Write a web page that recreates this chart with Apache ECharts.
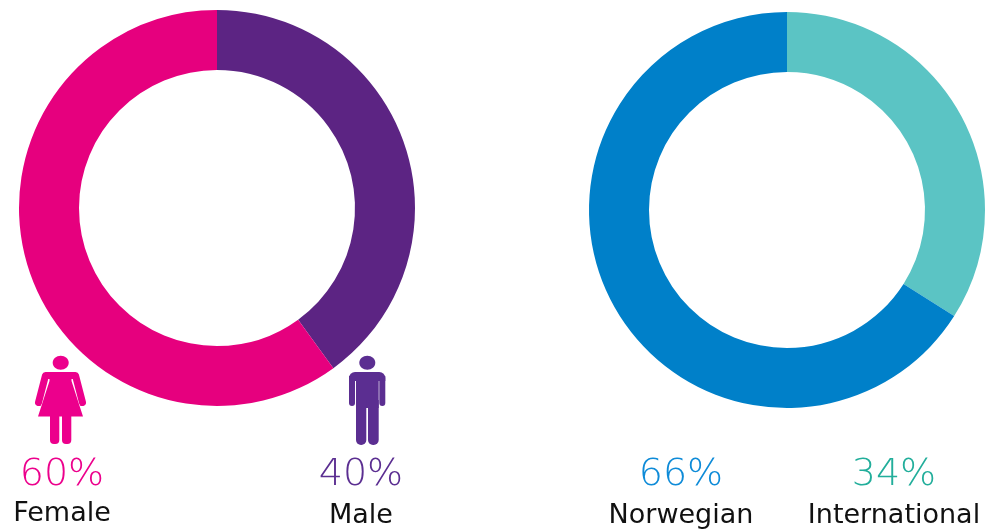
<!DOCTYPE html>
<html>
<head>
<meta charset="utf-8" />
<style>
  html, body { margin: 0; padding: 0; background: #fff; }
  #chart { width: 994px; height: 530px; }
</style>
</head>
<body>
<div id="chart"></div>
<script src="https://cdn.jsdelivr.net/npm/echarts@6/dist/echarts.min.js"></script>
<script>
  const genderNames = ["Male", "Female"];
  const genderValues = [40, 60];
  const originNames = ["International", "Norwegian"];
  const originValues = [34, 66];

  const chart = echarts.init(document.getElementById("chart"));

  function donut(names, values, colors, center) {
    return {
      type: "pie",
      silent: true,
      animation: false,
      center: center,
      radius: [138, 198],
      startAngle: 90,
      clockwise: true,
      label: { show: false },
      labelLine: { show: false },
      data: names.map((n, i) => ({
        name: n,
        value: values[i],
        itemStyle: { color: colors[i] },
      })),
    };
  }

  function caption(value, name, color, x, yPct, yName) {
    return [
      {
        type: "text",
        x: x,
        y: yPct,
        style: {
          text: value + "%",
          fill: color,
          font: '200 38px "DejaVu Sans"',
          align: "center",
          verticalAlign: "bottom",
        },
      },
      {
        type: "text",
        x: x,
        y: yName,
        style: {
          text: name,
          fill: "#111111",
          font: '27px "DejaVu Sans"',
          align: "center",
          verticalAlign: "bottom",
        },
      },
    ];
  }

  function femaleIcon(color) {
    const fill = { fill: color };
    const arm = { stroke: color, lineWidth: 7, lineCap: "round", lineJoin: "round", fill: null };
    return [
      { type: "ellipse", shape: { cx: 60.7, cy: 362.7, rx: 8, ry: 7 }, style: fill },
      { type: "polyline", shape: { points: [[50, 375.5], [45.500, 375.500], [38.500, 402.500]] }, style: arm },
      { type: "polyline", shape: { points: [[71, 375.5], [75.500, 375.500], [82.500, 402.500]] }, style: arm },
      { type: "polygon", shape: { points: [[49.500, 372], [71.500, 372], [71.500, 381], [83, 416.500], [38, 416.500], [49.500, 381]] }, style: fill },
      { type: "rect", shape: { x: 50, y: 414, width: 9.300, height: 30, r: [0, 0, 4, 4] }, style: fill },
      { type: "rect", shape: { x: 62, y: 414, width: 9.300, height: 30, r: [0, 0, 4, 4] }, style: fill },
    ];
  }

  function maleIcon(color) {
    const fill = { fill: color };
    return [
      { type: "ellipse", shape: { cx: 367.3, cy: 362.7, rx: 8, ry: 7 }, style: fill },
      { type: "rect", shape: { x: 349, y: 372, width: 36.300, height: 9, r: [6, 6, 0, 0] }, style: fill },
      { type: "rect", shape: { x: 349, y: 376, width: 6, height: 30, r: [0, 0, 3, 3] }, style: fill },
      { type: "rect", shape: { x: 379.3, y: 376, width: 6, height: 30, r: [0, 0, 3, 3] }, style: fill },
      { type: "rect", shape: { x: 356, y: 376, width: 22.700, height: 32 }, style: fill },
      { type: "rect", shape: { x: 356, y: 400, width: 10.300, height: 45, r: [0, 0, 5, 5] }, style: fill },
      { type: "rect", shape: { x: 368, y: 400, width: 10.700, height: 45, r: [0, 0, 5, 5] }, style: fill },
    ];
  }

  chart.setOption({
    backgroundColor: "#ffffff",
    animation: false,
    series: [
      donut(genderNames, genderValues, ["#5c2483", "#e6007e"], [217, 208]),
      donut(originNames, originValues, ["#5bc4c4", "#0080c9"], [787, 210]),
    ],
    graphic: [
      ...femaleIcon("#ec008c"),
      ...maleIcon("#5b2e91"),
      ...caption(genderValues[1], genderNames[1], "#ec008c", 62, 494, 527),
      ...caption(genderValues[0], genderNames[0], "#5b2e91", 361, 494, 529),
      ...caption(originValues[1], originNames[1], "#0e8bd8", 681, 494, 529),
      ...caption(originValues[0], originNames[0], "#22ae9b", 894, 494, 529),
    ],
  });
</script>
</body>
</html>
